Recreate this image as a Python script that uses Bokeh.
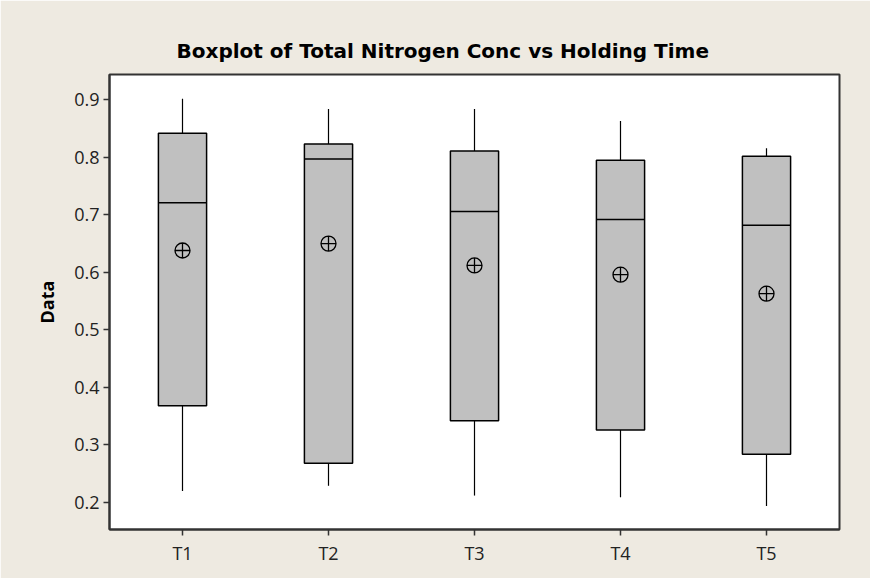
from bokeh.plotting import figure
from bokeh.models import FixedTicker, Title
from bokeh.embed import file_html
from bokeh.resources import INLINE

categories = ["T1", "T2", "T3", "T4", "T5"]
whisker_low = [0.220, 0.229, 0.212, 0.209, 0.194]
q1 = [0.368, 0.268, 0.342, 0.326, 0.284]
median = [0.721, 0.797, 0.706, 0.692, 0.682]
q3 = [0.842, 0.823, 0.811, 0.795, 0.802]
whisker_high = [0.902, 0.884, 0.884, 0.863, 0.816]
mean = [0.638, 0.650, 0.612, 0.596, 0.563]
y_ticks = [0.2, 0.3, 0.4, 0.5, 0.6, 0.7, 0.8, 0.9]

pos = [i + 1 for i in range(len(categories))]
half = 0.165

BG = "#EEEAE1"
p = figure(width=870, height=578, output_backend="svg", toolbar_location=None,
           x_range=(0.5, 5.5), y_range=(0.153, 0.944),
           min_border_left=109, min_border_right=31, min_border_top=74, min_border_bottom=49)
p.background_fill_color = "white"
p.border_fill_color = BG
p.outline_line_color = "#333333"
p.outline_line_width = 2
p.grid.visible = False

t = Title(text="Boxplot of Total Nitrogen Conc vs Holding Time", align="left", offset=67,
          text_font="DejaVu Sans", text_font_size="20px", text_font_style="bold",
          text_color="black", standoff=23)
p.add_layout(t, "above")

# whiskers
p.segment(x0=pos, y0=q3, x1=pos, y1=whisker_high, line_color="black", line_width=1.2)
p.segment(x0=pos, y0=q1, x1=pos, y1=whisker_low, line_color="black", line_width=1.2)
# boxes
p.vbar(x=pos, bottom=q1, top=q3, width=2 * half, fill_color="#C0C0C0",
       line_color="black", line_width=1.5)
# medians
p.segment(x0=[x - half for x in pos], y0=median, x1=[x + half for x in pos], y1=median,
          line_color="black", line_width=1.5)
# means
p.scatter(x=pos, y=mean, marker="circle_cross", size=15, fill_color=None,
          line_color="black", line_width=1.3)

p.xaxis.ticker = FixedTicker(ticks=pos)
p.xaxis.major_label_overrides = {x: c for x, c in zip(pos, categories)}
p.yaxis.ticker = FixedTicker(ticks=y_ticks)
p.yaxis.axis_label = "Data"
for ax in (p.xaxis[0], p.yaxis[0]):
    ax.axis_line_color = "#333333"
    ax.axis_line_width = 2
    ax.major_tick_line_color = "#333333"
    ax.major_tick_line_width = 1.5
    ax.major_tick_out = 6
    ax.major_tick_in = 0
    ax.minor_tick_line_color = None
    ax.major_label_text_font = "Open Sans"
    ax.major_label_text_font_size = "18px"
    ax.major_label_text_color = "#222222"
p.xaxis.major_label_standoff = 5
p.yaxis.major_label_standoff = 4
p.yaxis.axis_label_text_font = "Open Sans"
p.yaxis.axis_label_text_font_size = "18px"
p.yaxis.axis_label_text_font_style = "bold"
p.yaxis.axis_label_text_color = "black"
p.yaxis.axis_label_standoff = 12

open("out.html", "w").write(file_html(p, INLINE))
